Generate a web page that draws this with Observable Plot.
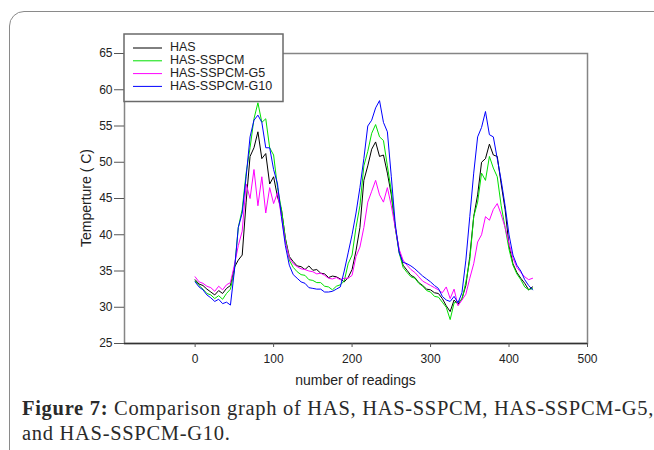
<!DOCTYPE html>
<html>
<head>
<meta charset="utf-8">
<script src="https://cdn.jsdelivr.net/npm/d3@7"></script>
<script src="https://cdn.jsdelivr.net/npm/@observablehq/plot@0.6"></script>
<style>
  html, body { margin: 0; padding: 0; background: #fff; width: 654px; height: 450px; overflow: hidden; }
  #box { position: absolute; left: 9px; top: 11px; width: 700px; height: 500px;
         border: 1.5px solid #8a8a8a; border-radius: 15px; box-sizing: border-box; }
  #chart { position: absolute; left: 0; top: 0; }
  #caption { position: absolute; left: 22px; top: 396px; font-family: "Liberation Serif", "DejaVu Serif", serif;
             font-size: 20.5px; letter-spacing: 0.7px; line-height: 25px; color: #2a2a2a; white-space: nowrap; }
  #caption b { font-weight: bold; }
</style>
</head>
<body>
<div id="box"></div>
<div id="chart"></div>
<div id="caption"><b>Figure 7:</b> Comparison graph of HAS, HAS-SSPCM, HAS-SSPCM-G5,<br>and HAS-SSPCM-G10.</div>
<script>
const seriesNames = ["HAS", "HAS-SSPCM", "HAS-SSPCM-G5", "HAS-SSPCM-G10"];
const seriesColors = ["#000000", "#00e000", "#ff00ff", "#0000ff"];
const xTicks = [0, 100, 200, 300, 400, 500];
const yTicks = [25, 30, 35, 40, 45, 50, 55, 60, 65];

const readings = [0,5,10,15,20,25,30,35,40,45,50,55,60,65,70,75,80,85,90,95,100,105,110,115,120,125,130,135,140,145,150,155,160,165,170,175,180,185,190,195,200,205,210,215,220,225,230,235,240,245,250,255,260,265,270,275,280,285,290,295,300,305,310,315,320,325,330,335,340,345,350,355,360,365,370,375,380,385,390,395,400,405,410,415,420,425,430];

const has = [33.8,33.2,33.0,32.5,32.1,31.7,32.3,31.9,32.6,33.0,35.5,36.5,37.2,44.5,50.8,52.0,54.2,50.5,51.2,47.0,48.0,45.2,43.5,39.5,37.0,36.3,35.7,35.6,35.2,35.7,35.1,35.2,34.7,34.6,34.1,34.3,34.2,33.9,33.5,34.1,35.2,37.8,41.0,47.5,49.5,51.8,52.8,50.8,51.0,48.5,45.5,41.0,37.8,35.8,35.1,34.4,34.1,33.4,33.0,32.5,32.4,32.0,31.9,31.2,30.2,29.4,31.0,30.4,31.2,33.0,37.0,42.5,45.5,50.0,50.5,52.5,51.0,50.8,47.0,43.5,38.5,36.0,34.8,34.0,33.3,32.4,32.8];

const hasSspcm = [33.6,33.0,32.5,31.9,31.7,31.2,31.6,31.1,31.9,32.5,35.0,41.0,43.5,48.5,52.0,56.0,58.2,55.5,56.0,52.0,51.0,46.5,43.5,39.5,36.5,35.5,34.9,34.5,34.4,33.8,33.7,33.4,33.4,32.9,32.8,32.4,32.9,33.1,33.6,36.0,37.2,41.0,44.0,49.5,51.5,54.0,55.2,53.5,53.0,49.5,46.0,41.0,37.5,35.5,34.8,34.2,34.0,33.3,32.9,32.3,32.1,31.5,31.4,30.7,30.0,28.3,30.6,30.8,31.0,33.5,36.5,42.5,44.5,48.5,47.5,50.8,49.2,48.0,44.0,41.0,38.0,35.8,34.6,33.8,32.8,32.4,32.6];

const hasSspcmG5 = [34.2,33.5,33.3,32.9,32.7,32.2,32.9,32.4,33.1,33.4,35.8,38.5,40.5,47.0,45.0,49.0,44.0,48.0,43.0,46.5,44.3,45.8,42.5,39.0,36.8,36.0,35.6,35.3,35.2,35.0,34.9,34.6,34.7,34.4,34.0,33.9,34.1,33.8,34.0,34.0,34.4,37.0,38.3,41.0,44.5,46.0,47.5,45.5,44.5,46.5,44.0,41.0,38.0,36.5,35.8,35.2,34.8,34.2,33.6,33.3,33.0,32.7,32.4,32.0,32.8,31.2,32.5,30.2,31.0,31.8,34.0,36.0,39.0,40.0,42.5,42.0,43.5,44.3,42.8,41.0,38.8,36.8,35.5,34.8,34.2,33.8,34.0];

const hasSspcmG10 = [33.5,32.8,32.4,31.7,31.3,30.8,31.1,30.5,30.7,30.3,35.0,41.0,43.0,48.0,53.5,55.8,56.5,55.5,52.0,52.0,49.0,47.0,42.5,38.5,35.8,34.5,34.0,33.5,33.3,32.7,32.6,32.5,32.5,32.1,32.1,32.2,32.5,32.8,35.0,37.5,40.0,43.0,46.5,50.5,55.0,55.8,57.5,58.5,55.5,54.2,48.0,41.5,37.5,36.2,36.0,35.7,35.3,34.8,34.3,33.9,33.5,33.0,32.6,31.5,31.0,30.8,31.5,30.6,32.0,36.5,42.5,48.5,53.5,54.8,57.0,53.8,53.5,50.5,47.5,44.0,40.0,37.2,35.8,35.0,33.8,33.0,32.4];

const allSeries = [has, hasSspcm, hasSspcmG5, hasSspcmG10];
const data = [];
allSeries.forEach((vals, si) => {
  vals.forEach((v, i) => data.push({ r: readings[i], t: v, s: seriesNames[si] }));
});

const W = 654, H = 395;
const mL = 124, mR = 67, mT = 53, mB = 52;

const chart = Plot.plot({
  width: W, height: H,
  marginLeft: mL, marginRight: mR, marginTop: mT, marginBottom: mB,
  style: { fontFamily: "'Liberation Sans', Arial, sans-serif", fontSize: "12px", color: "#222", background: "transparent", overflow: "visible" },
  x: { domain: [-90, 500], ticks: xTicks, label: null },
  y: { domain: [25, 65], ticks: yTicks, label: null },
  color: { domain: seriesNames, range: seriesColors },
  marks: [
    Plot.frame({ stroke: "#858585", strokeWidth: 1.5 }),
    Plot.line(data, { x: "r", y: "t", z: "s", stroke: "s", strokeWidth: 1 }),
    Plot.ruleY([25], { stroke: "#333", strokeWidth: 1.5 }),
    Plot.axisY({ ticks: yTicks, tickSize: 10, tickPadding: 2, label: null, stroke: "#555" }),
    Plot.axisX({ ticks: xTicks, tickSize: 4, tickPadding: 7, label: null, stroke: "#555" })
  ]
});

document.getElementById("chart").appendChild(chart);

const svg = d3.select(chart);
// axis titles
svg.append("text")
  .attr("x", mL + (W - mL - mR) / 2).attr("y", H - 10)
  .attr("text-anchor", "middle").attr("font-size", 14).attr("fill", "#222")
  .text("number of readings");
svg.append("text")
  .attr("transform", `translate(87, ${mT + (H - mT - mB) / 2}) rotate(-90)`)
  .attr("text-anchor", "middle").attr("dominant-baseline", "middle")
  .attr("font-size", 14).attr("fill", "#222")
  .text("Temperture ( C)");

// legend
const lg = svg.append("g");
lg.append("rect").attr("x", 124).attr("y", 34).attr("width", 159).attr("height", 67.5)
  .attr("fill", "#fff").attr("stroke", "#6a6a6a").attr("stroke-width", 1.5);
seriesNames.forEach((name, i) => {
  const y = 48 + i * 12.8;
  lg.append("line").attr("x1", 133).attr("x2", 162).attr("y1", y).attr("y2", y)
    .attr("stroke", seriesColors[i]).attr("stroke-width", 1);
  lg.append("text").attr("x", 170).attr("y", y).attr("dominant-baseline", "middle")
    .attr("text-anchor", "start")
    .attr("font-size", 12.5).attr("fill", "#222").text(name);
});
</script>
</body>
</html>
